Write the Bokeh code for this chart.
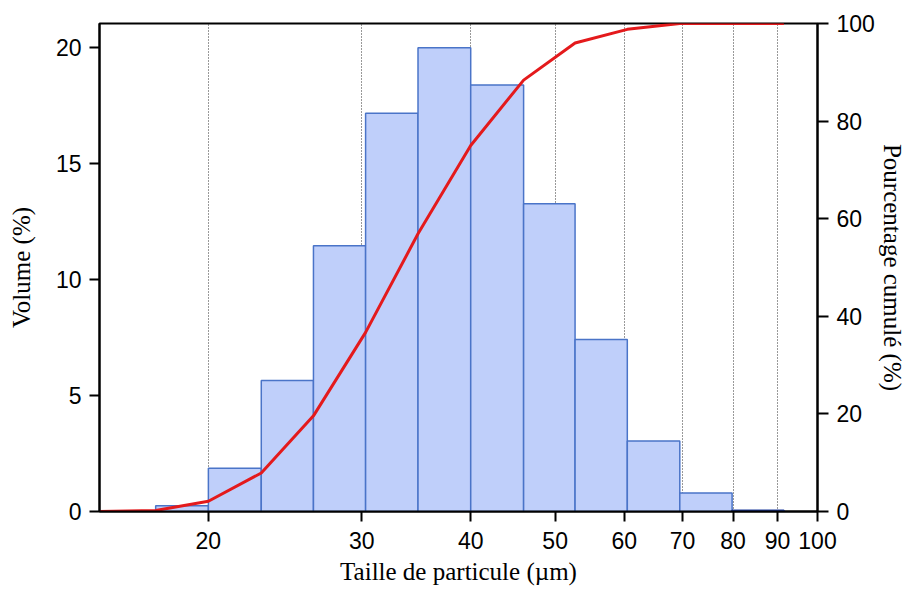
from bokeh.plotting import figure
from bokeh.models import Range1d, LinearAxis, FixedTicker, PrintfTickFormatter
from bokeh.embed import file_html
from bokeh.resources import INLINE

# Bin edges (µm) and volume (%) per bin
bin_edges = [17.4, 20.0, 23.0, 26.4, 30.3, 34.8, 40.0, 46.0, 52.7, 60.5, 69.5, 79.8, 91.5]
volume = [0.25, 1.87, 5.65, 11.46, 17.18, 20.0, 18.4, 13.28, 7.42, 3.04, 0.8, 0.05]

# Cumulative curve
cum_x = [15.0, 17.4, 20.0, 23.0, 26.4, 30.3, 34.8, 40.0, 46.0, 52.7, 60.5, 69.5, 79.8, 91.5]
cum_y = [0.0, 0.2, 2.1, 7.9, 19.6, 36.7, 56.9, 75.0, 88.4, 96.0, 98.8, 100.0, 100.0, 100.0]

x_ticks = [20, 30, 40, 50, 60, 70, 80, 90, 100]
grid_ticks = [20, 30, 40, 50, 60, 70, 80, 90]
left_ticks = [0, 5, 10, 15, 20]
right_ticks = [0, 20, 40, 60, 80, 100]

TICK_FONT = "Liberation Sans"
TITLE_FONT = "Liberation Serif"

p = figure(
    width=904, height=590,
    frame_width=718, frame_height=488,
    x_axis_type="log",
    x_range=Range1d(15, 100), y_range=Range1d(0, 21.05),
    output_backend="svg", toolbar_location=None,
    min_border_left=99, min_border_top=23, min_border_right=87, min_border_bottom=79,
)
p.extra_y_ranges = {"cum": Range1d(0, 100)}

# bars with a very small volume show as a dark outline at the baseline
bar_lines = ["#1f3c9e" if v < 0.1 else "#4a74c8" for v in volume]
p.quad(left=bin_edges[:-1], right=bin_edges[1:], bottom=0, top=volume,
       fill_color="#bfcffa", line_color=bar_lines, line_width=1.5)
p.line(cum_x, cum_y, y_range_name="cum", line_color="#e41a1c", line_width=3)

p.outline_line_color = "black"
p.outline_line_width = 2
p.background_fill_color = "white"
p.border_fill_color = "white"

# Grid
p.ygrid.visible = False
p.xgrid.ticker = FixedTicker(ticks=grid_ticks, minor_ticks=[])
p.xgrid.grid_line_color = "#333333"
p.xgrid.grid_line_dash = "1 2"
p.xgrid.grid_line_width = 1

def style(ax, ticks):
    ax.ticker = FixedTicker(ticks=ticks, minor_ticks=[])
    ax.axis_line_color = "black"
    ax.axis_line_width = 2
    ax.major_tick_line_color = "black"
    ax.major_tick_line_width = 2
    ax.major_tick_out = 10
    ax.major_tick_in = 0
    ax.minor_tick_line_color = None
    ax.major_label_text_font = TICK_FONT
    ax.major_label_text_font_size = "23px"
    ax.major_label_text_color = "black"
    ax.axis_label_text_font = TITLE_FONT
    ax.axis_label_text_font_size = "25px"
    ax.axis_label_text_font_style = "normal"
    ax.axis_label_text_color = "black"

xa = p.xaxis[0]
style(xa, x_ticks)
xa.formatter = PrintfTickFormatter(format="%d")
xa.axis_label = "Taille de particule (µm)"
xa.major_label_standoff = 10
xa.axis_label_standoff = 6

ya = p.yaxis[0]
style(ya, left_ticks)
ya.axis_label = "Volume (%)"
ya.major_label_standoff = 8
ya.axis_label_standoff = 18

ra = LinearAxis(y_range_name="cum")
style(ra, right_ticks)
ra.major_tick_out = 11
ra.axis_label = "Pourcentage cumulé (%)"
ra.major_label_standoff = 8
ra.axis_label_standoff = 1
p.add_layout(ra, "right")

open("out.html", "w").write(file_html(p, INLINE))
